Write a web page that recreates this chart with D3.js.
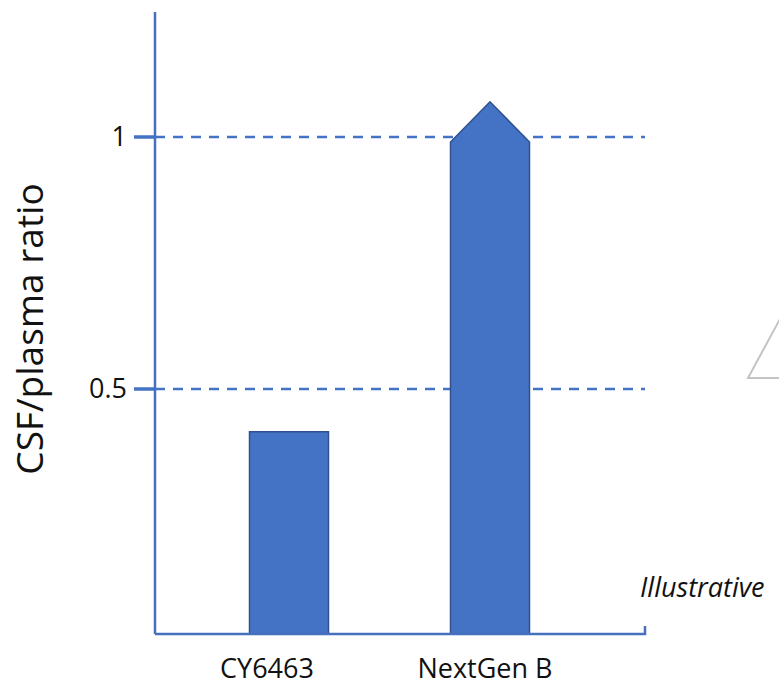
<!DOCTYPE html>
<html>
<head>
<meta charset="utf-8">
<script src="https://cdn.jsdelivr.net/npm/d3@7"></script>
<style>
  html, body { margin: 0; padding: 0; background: #ffffff; }
  svg { display: block; font-family: "Open Sans", "Noto Sans", sans-serif; }
</style>
</head>
<body>
<svg id="chart" width="779" height="688"></svg>
<script>
// Compounds compared
const categories = ["CY6463", "NextGen B"];
// CSF/plasma ratio per compound
const ratios = [0.415, 0.99];
// Compounds whose ratio is shown as open-ended (arrow head on top)
const openEnded = [false, true];
// Reference levels on the y axis
const tickValues = [0.5, 1];
const tickLabels = ["0.5", "1"];

const blue = "#4472C4";
const blueDark = "#2F528F";
const axisBlue = "#4670BE";

const svg = d3.select("#chart");

// Plot frame
const plotLeft = 155, plotRight = 645, plotTop = 12, baseY = 634;

const y = d3.scaleLinear().domain([0, 1]).range([641, 137]);
const x = d3.scaleBand()
  .domain(categories)
  .range([188.5, 590.5])
  .paddingInner(0.607)
  .paddingOuter(0.3035);

// Dashed reference lines
svg.append("g")
  .selectAll("line")
  .data(tickValues)
  .join("line")
  .attr("x1", plotLeft).attr("x2", plotRight)
  .attr("y1", d => y(d)).attr("y2", d => y(d))
  .attr("stroke", blue)
  .attr("stroke-width", 2.5)
  .attr("stroke-dasharray", "10,8");

// Bars (open-ended ones get a pointed top)
const arrowRise = 0.08;
const bars = svg.append("g");
categories.forEach((c, i) => {
  const x0 = x(c), x1 = x(c) + x.bandwidth(), xm = x(c) + x.bandwidth() / 2;
  const yt = y(ratios[i]);
  const pts = openEnded[i]
    ? [[x0, baseY], [x0, yt], [xm, y(ratios[i] + arrowRise)], [x1, yt], [x1, baseY]]
    : [[x0, baseY], [x0, yt], [x1, yt], [x1, baseY]];
  bars.append("path")
    .attr("d", d3.line()(pts) + "Z")
    .attr("fill", blue)
    .attr("stroke", blueDark)
    .attr("stroke-width", 1.5)
    .attr("stroke-linejoin", "miter");
});

// Axes
const axes = svg.append("g").attr("stroke", axisBlue).attr("fill", "none");
axes.append("line")
  .attr("x1", plotLeft).attr("x2", plotLeft)
  .attr("y1", plotTop).attr("y2", baseY)
  .attr("stroke-width", 2.5);
axes.append("path")
  .attr("d", `M${plotLeft},${baseY}H${plotRight}V${baseY - 8}`)
  .attr("stroke-width", 2.5);

// Y tick marks and labels
svg.append("g")
  .selectAll("line")
  .data(tickValues)
  .join("line")
  .attr("x1", 134).attr("x2", plotLeft)
  .attr("y1", d => y(d)).attr("y2", d => y(d))
  .attr("stroke", blue)
  .attr("stroke-width", 3.5);

svg.append("g")
  .selectAll("text")
  .data(tickValues)
  .join("text")
  .attr("x", 127)
  .attr("y", d => y(d))
  .attr("dy", "0.35em")
  .attr("text-anchor", "end")
  .attr("font-size", 27)
  .attr("fill", "#111")
  .text((d, i) => tickLabels[i]);

// Category labels
const labelShift = [-22, -5];
svg.append("g")
  .selectAll("text")
  .data(categories)
  .join("text")
  .attr("x", (d, i) => x(d) + x.bandwidth() / 2 + labelShift[i])
  .attr("y", 678)
  .attr("text-anchor", "middle")
  .attr("font-size", 27)
  .attr("fill", "#111")
  .text(d => d);

// Y axis title
svg.append("text")
  .attr("transform", "translate(43,329) rotate(-90)")
  .attr("text-anchor", "middle")
  .attr("font-size", 37)
  .attr("fill", "#111")
  .text("CSF/plasma ratio");

// Note
svg.append("text")
  .attr("x", 640)
  .attr("y", 597)
  .attr("font-size", 27)
  .attr("font-style", "italic")
  .attr("fill", "#111")
  .text("Illustrative");

// Outline triangle at the right edge
svg.append("path")
  .attr("d", "M748,378L800,282L852,378Z")
  .attr("fill", "none")
  .attr("stroke", "#c4c4c4")
  .attr("stroke-width", 2);
</script>
</body>
</html>
